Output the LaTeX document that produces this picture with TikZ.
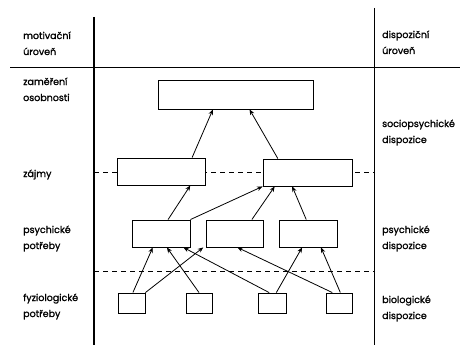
\documentclass[tikz,border=0pt]{standalone}
\usepackage{fontspec}
\setmainfont{Poppins}[FakeBold=1.2]
\usetikzlibrary{calc,arrows.meta}
\begin{document}
\begin{tikzpicture}[x=1pt,y=-1pt,
  lbl/.style={anchor=base west,inner sep=0pt,font=\fontsize{9.5}{12}\selectfont},
  box/.style={draw,line width=0.9pt,fill=white,inner sep=0pt},
  conn/.style={line width=0.8pt,-{Stealth[length=5.5pt,width=4.5pt]}},
  rule/.style={line width=0.8pt},
  dsh/.style={line width=0.8pt,dash pattern=on 5pt off 4pt}]
\useasboundingbox (0,0) rectangle (460,345);
% frame lines
\coordinate (lt) at (94,17);
\coordinate (lb) at (94,345);
\coordinate (rt) at (374,8);
\coordinate (rb) at (374,345);
\coordinate (hl) at (10,67);
\coordinate (hr) at (460,67);
\coordinate (d1l) at (94,172);
\coordinate (d1r) at (374,172);
\coordinate (d2l) at (94,271);
\coordinate (d2r) at (374,271);
\draw[line width=1.1pt] (lt) -- (lb);
\draw[rule] (rt) -- (rb);
\draw[rule] (hl) -- (hr);
\draw[dsh] (d1l) -- (d1r);
\draw[dsh] (d2l) -- (d2r);
% labels left
\node[lbl] (a1) at (23,39) {motivační};
\node[lbl] (a2) at (23,55) {úroveň};
\node[lbl] (b1) at (23,85) {zaměření};
\node[lbl] (b2) at (23,101) {osobnosti};
\node[lbl] (c1) at (23,177) {zájmy};
\node[lbl] (d1) at (23,233) {psychické};
\node[lbl] (d2) at (23,249) {potřeby};
\node[lbl] (e1) at (23,301) {fyziologické};
\node[lbl] (e2) at (23,317) {potřeby};
% labels right
\node[lbl] (f1) at (382,38) {dispoziční};
\node[lbl] (f2) at (382,54) {úroveň};
\node[lbl] (g1) at (382,127) {sociopsychické};
\node[lbl] (g2) at (382,143) {dispozice};
\node[lbl] (h1) at (382,233) {psychické};
\node[lbl] (h2) at (382,249) {dispozice};
\node[lbl] (i1) at (382,303) {biologické};
\node[lbl] (i2) at (382,319) {dispozice};
% boxes
\node[box,minimum width=155pt,minimum height=29pt] (T) at (235.5,94.5) {};
\node[box,minimum width=88pt,minimum height=27pt] (Z1) at (161,171.5) {};
\node[box,minimum width=89pt,minimum height=27pt] (Z2) at (307.5,172.5) {};
\node[box,minimum width=58pt,minimum height=27pt] (P1) at (161,233.5) {};
\node[box,minimum width=57pt,minimum height=27pt] (P2) at (234.5,233.5) {};
\node[box,minimum width=58pt,minimum height=27pt] (P3) at (308,233.5) {};
\node[box,minimum width=27pt,minimum height=20pt] (B1) at (131.5,303) {};
\node[box,minimum width=26pt,minimum height=20pt] (B2) at (199,303) {};
\node[box,minimum width=28pt,minimum height=20pt] (B3) at (272,303) {};
\node[box,minimum width=26pt,minimum height=20pt] (B4) at (339,303) {};
% connectors
\newcommand{\tp}[2]{($(#1.north west)!#2!(#1.north east)$)}
\newcommand{\bt}[2]{($(#1.south west)!#2!(#1.south east)$)}
\draw[conn] \tp{Z1}{0.85} -- \bt{T}{0.355};
\draw[conn] \tp{Z2}{0.17} -- \bt{T}{0.59};
\draw[conn] \tp{P1}{0.62} -- \bt{Z1}{0.83};
\draw[conn] (P1.north east) -- (Z2.south west);
\draw[conn] \tp{P2}{0.8} -- \bt{Z2}{0.135};
\draw[conn] \tp{P3}{0.47} -- \bt{Z2}{0.33};
\draw[conn] \tp{B1}{0.55} -- \bt{P1}{0.36};
\draw[conn] (B1.north east) -- \bt{P2}{-0.04};
\draw[conn] \tp{B2}{0.5} -- \bt{P1}{0.6};
\draw[conn] \tp{B3}{0.4} -- \bt{P1}{0.88};
\draw[conn] \tp{B3}{0.65} -- \bt{P3}{0.4};
\draw[conn] \tp{B4}{0.25} -- \bt{P2}{0.55};
\draw[conn] \tp{B4}{0.55} -- \bt{P3}{0.72};
\end{tikzpicture}
\end{document}
